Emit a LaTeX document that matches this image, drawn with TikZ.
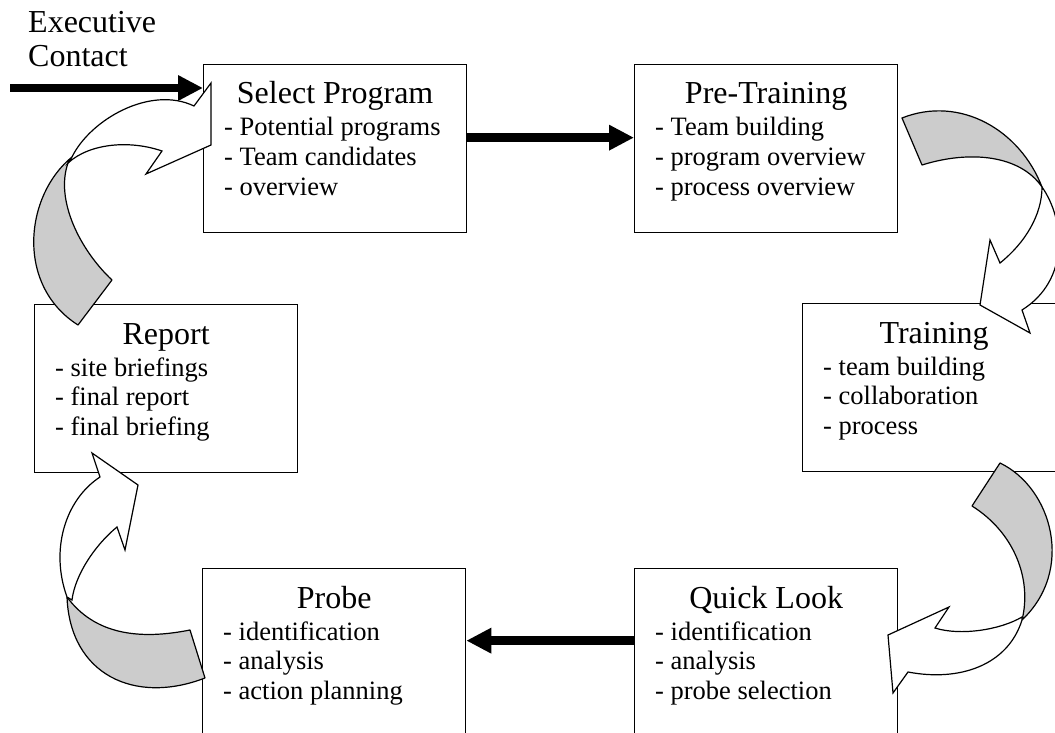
\documentclass[tikz,border=0pt]{standalone}
\usepackage{fontspec}
\setmainfont{Liberation Serif}
\usetikzlibrary{arrows.meta}
\definecolor{backside}{RGB}{204,204,204}
\tikzset{
  stage/.style={draw, line width=1.3pt, fill=white, minimum width=263pt,
    minimum height=168pt, inner sep=0pt, anchor=north west},
  ttl/.style={font=\fontsize{32}{34}\selectfont, inner sep=0pt, anchor=base},
  itm/.style={font=\fontsize{26.5}{30}\selectfont, inner sep=0pt, anchor=base west},
  flow/.style={line width=8.5pt, -{Triangle[length=25pt,width=24pt]}},
  back/.style={draw, line width=1.2pt, fill=backside, line join=round},
  front/.style={draw, line width=1.2pt, fill=white, line join=miter},
}
% one stage of the cycle: name, corner x, corner y, title, three items
\newcommand{\stagebox}[7]{%
  \node[stage] (#1) at (#2,#3) {};
  \node[ttl] (#1-t) at ([yshift=-40pt]#1.north) {#4};
  \node[itm] (#1-a) at ([xshift=21pt,yshift=-72pt]#1.north west) {- #5};
  \node[itm] (#1-b) at ([xshift=21pt,yshift=-101.5pt]#1.north west) {- #6};
  \node[itm] (#1-c) at ([xshift=21pt,yshift=-131pt]#1.north west) {- #7};
}
\begin{document}
\begin{tikzpicture}[x=1pt,y=-1pt]
\useasboundingbox (0,0) rectangle (1055,733);
\clip (0,0) rectangle (1055,733);

% stages
\stagebox{sel}{203}{64}{Select Program}{Potential programs}{Team candidates}{overview}
\stagebox{pre}{634}{64}{Pre-Training}{Team building}{program overview}{process overview}
\stagebox{trn}{802}{303}{Training}{team building}{collaboration}{process}
\stagebox{qck}{634}{568}{Quick Look}{identification}{analysis}{probe selection}
\stagebox{prb}{202}{568}{Probe}{identification}{analysis}{action planning}
\stagebox{rep}{34}{304}{Report}{site briefings}{final report}{final briefing}

% entry label
\node[ttl, anchor=base west] (exec1) at (28,33) {Executive};
\node[ttl, anchor=base west] (exec2) at (28,67) {Contact};

% curved arrow: Report -> Select Program
\path[back] (72,157) .. controls (25,195) and (15,285) .. (78,325) -- (112,280)
  .. controls (80,250) and (55,200) .. (68,163) -- cycle;
\path[front] (72,157) .. controls (90,120) and (150,85) .. (194,106) -- (211,83)
  -- (211,145) -- (146,174) -- (162,151) .. controls (130,140) and (90,143) .. (68,163) -- cycle;

% curved arrow: Pre-Training -> Training
\path[back] (902,118) .. controls (960,95) and (1020,130) .. (1042,187)
  .. controls (1020,155) and (970,150) .. (922,165) -- cycle;
\path[front] (1042,187) .. controls (1065,220) and (1070,280) .. (1022,310) -- (1030,333)
  -- (980,305) -- (990,240) -- (1000,263) .. controls (1025,243) and (1042,215) .. (1042,187) -- cycle;

% curved arrow: Training -> Quick Look
\path[back] (1000,463) .. controls (1052,488) and (1075,570) .. (1022,620)
  .. controls (1032,580) and (1015,533) .. (972,506) -- cycle;
\path[front] (1022,620) .. controls (1008,665) and (960,682) .. (908,672) -- (893,693)
  -- (888,635) -- (949,607) -- (935,628) .. controls (960,636) and (1000,630) .. (1022,617) -- cycle;

% curved arrow: Probe -> Report
\path[back] (190,630) .. controls (140,640) and (95,635) .. (67,597)
  .. controls (70,675) and (135,705) .. (205,678) -- cycle;
\path[front] (67,597) .. controls (50,550) and (65,500) .. (100,477) -- (92,453)
  -- (138,485) -- (125,550) -- (117,527) .. controls (95,545) and (75,575) .. (72,600) -- cycle;

% straight flows
\coordinate (ec) at (10,88);
\draw[flow] (ec) -- (ec -| sel.west);
\draw[flow] ([yshift=11pt]sel.east) -- ([yshift=11pt]pre.west);
\draw[flow] ([yshift=12pt]qck.west) -- ([yshift=12pt]prb.east);
\end{tikzpicture}
\end{document}
